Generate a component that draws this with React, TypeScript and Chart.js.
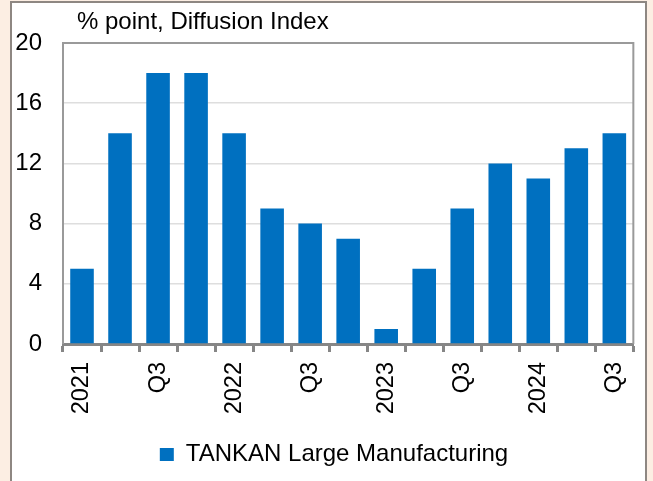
import React, { useEffect, useRef } from "react";
import { Chart, registerables } from "chart.js";

Chart.register(...registerables);

const categories = [
  "2021Q1", "2021Q2", "2021Q3", "2021Q4",
  "2022Q1", "2022Q2", "2022Q3", "2022Q4",
  "2023Q1", "2023Q2", "2023Q3", "2023Q4",
  "2024Q1", "2024Q2", "2024Q3",
];
const tickLabels = [
  "2021", "", "Q3", "",
  "2022", "", "Q3", "",
  "2023", "", "Q3", "",
  "2024", "", "Q3",
];
const tankanLarge = [5, 14, 18, 18, 14, 9, 8, 7, 1, 5, 9, 12, 11, 13, 14];
const seriesName = "TANKAN Large Manufacturing";
const unitLabel = "% point, Diffusion Index";
const yMin = 0;
const yMax = 20;
const yStep = 4;

const FONT = "'Liberation Sans', Arial, sans-serif";
const PEACH = "#FCEEE3";
const BLUE = "#0070C0";

const framePlugin = {
  id: "frame",
  afterLayout(chart: any) {
    const lg = chart.legend;
    if (lg) {
      lg.left += 7;
      lg.right += 7;
    }
  },
  beforeDraw(chart: any) {
    const ctx = chart.ctx;
    ctx.save();
    ctx.fillStyle = PEACH;
    ctx.fillRect(0, 0, chart.width, chart.height);
    ctx.fillStyle = "#ffffff";
    ctx.fillRect(11, 2, 635, chart.height + 10);
    ctx.strokeStyle = "#8e8782";
    ctx.lineWidth = 2;
    ctx.strokeRect(11, 2, 635, chart.height + 10);
    ctx.restore();
  },
  afterDatasetsDraw(chart: any) {
    const { ctx, chartArea } = chart;
    ctx.save();
    ctx.strokeStyle = "#9a9a9a";
    ctx.lineWidth = 2;
    ctx.beginPath();
    ctx.moveTo(chartArea.left, chartArea.bottom);
    ctx.lineTo(chartArea.left, chartArea.top);
    ctx.lineTo(chartArea.right, chartArea.top);
    ctx.lineTo(chartArea.right, chartArea.bottom);
    ctx.stroke();
    ctx.restore();
  },
  afterDraw(chart: any) {
    const { ctx, chartArea } = chart;
    ctx.save();
    ctx.fillStyle = "#000000";
    ctx.font = `24px ${FONT}`;
    ctx.textAlign = "left";
    ctx.textBaseline = "alphabetic";
    ctx.fillText(unitLabel, chartArea.left + 14, 28.5);
    ctx.restore();
  },
};

export default function App() {
  const canvasRef = useRef<HTMLCanvasElement | null>(null);

  useEffect(() => {
    const canvas = canvasRef.current;
    if (!canvas) return;
    const chart = new Chart(canvas, {
      type: "bar",
      data: {
        labels: categories,
        datasets: [
          {
            label: seriesName,
            data: tankanLarge,
            backgroundColor: BLUE,
            borderWidth: 0,
            barPercentage: 0.62,
            categoryPercentage: 1,
          },
        ],
      },
      options: {
        responsive: false,
        animation: false,
        devicePixelRatio: 1,
        layout: { padding: { left: 15, right: 14, top: 43, bottom: 4.5 } },
        plugins: {
          title: { display: false },
          tooltip: { enabled: false },
          legend: {
            position: "bottom",
            labels: {
              boxWidth: 14,
              boxHeight: 13,
              padding: 10,
              color: "#000000",
              font: { family: FONT, size: 24 },
            },
          },
        },
        scales: {
          x: {
            z: 1,
            offset: true,
            grid: {
              offset: true,
              drawOnChartArea: false,
              drawTicks: true,
              tickLength: 8,
              tickWidth: 3,
              tickColor: "#868686",
            },
            border: { display: true, color: "#868686", width: 3 },
            ticks: {
              autoSkip: false,
              minRotation: 90,
              maxRotation: 90,
              padding: 10,
              color: "#000000",
              font: { family: FONT, size: 23.5 },
              callback: (_v: any, i: number) => tickLabels[i],
            },
            afterFit: (scale: any) => {
              scale.height = 88.5;
            },
          },
          y: {
            min: yMin,
            max: yMax,
            grid: {
              color: "#dedede",
              lineWidth: 1.5,
              drawTicks: false,
            },
            border: { display: false },
            ticks: {
              stepSize: yStep,
              padding: 21,
              color: "#000000",
              font: { family: FONT, size: 24 },
            },
            afterFit: (scale: any) => {
              scale.width = 48;
            },
          },
        },
      },
      plugins: [framePlugin],
    });
    return () => chart.destroy();
  }, []);

  return (
    <div
      style={{
        position: "fixed",
        left: 0,
        top: 0,
        width: 653,
        height: 481,
        background: PEACH,
      }}
    >
      <canvas ref={canvasRef} width={653} height={481} style={{ display: "block" }} />
    </div>
  );
}
